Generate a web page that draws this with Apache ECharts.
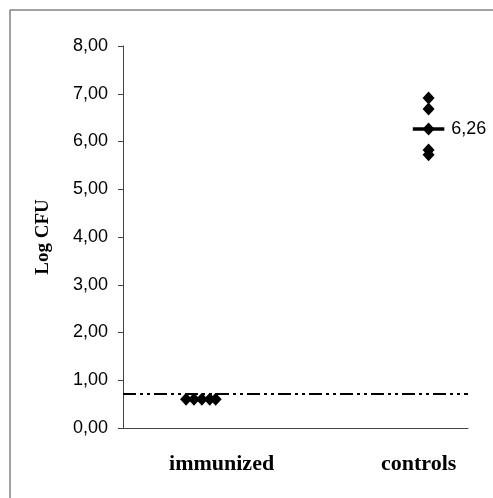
<!DOCTYPE html>
<html>
<head>
<meta charset="utf-8">
<script src="https://cdn.jsdelivr.net/npm/echarts@6/dist/echarts.min.js"></script>
<style>
  html, body { margin: 0; padding: 0; background: #fff; }
  #chart { width: 493px; height: 498px; }
</style>
</head>
<body>
<div id="chart"></div>
<script>
const categories = ['immunized', 'controls']
const yTicks = [0, 1, 2, 3, 4, 5, 6, 7, 8]

// x positions are jitter around category 1 / 2
const immunizedX = [0.82, 0.86, 0.90, 0.94, 0.97]
const immunizedY = [0.60, 0.60, 0.60, 0.60, 0.60]
const controlsX = [2.05, 2.05, 2.05, 2.05, 2.05]
const controlsY = [6.91, 6.68, 6.26, 5.82, 5.72]

const median = 6.26
const medianSpan = [1.97, 2.13]
const detectionLimit = 0.72

const chart = echarts.init(document.getElementById('chart'))

const fmt = v => v.toFixed(2).replace('.', ',')

const option = {
  animation: false,
  backgroundColor: '#fff',
  grid: { left: 123, right: 25, top: 46, bottom: 70 },
  graphic: [
    { type: 'line', shape: { x1: 10, y1: 10, x2: 493, y2: 10 }, style: { stroke: '#444', lineWidth: 1 } },
    { type: 'line', shape: { x1: 10, y1: 10, x2: 10, y2: 498 }, style: { stroke: '#444', lineWidth: 1 } }
  ],
  xAxis: {
    type: 'value',
    min: 0.5,
    max: 2.25,
    splitLine: { show: false },
    axisLine: { show: true, onZero: false, lineStyle: { color: '#444', width: 1 } },
    axisTick: { show: false },
    axisLabel: {
      customValues: [1, 2],
      formatter: v => categories[Math.round(v) - 1] || '',
      fontFamily: 'Liberation Serif',
      fontWeight: 'bold',
      fontSize: 22,
      color: '#000',
      margin: 25
    }
  },
  yAxis: {
    type: 'value',
    min: 0,
    max: 8,
    interval: 1,
    name: 'Log CFU',
    nameLocation: 'middle',
    nameGap: 70,
    nameTextStyle: { fontFamily: 'Liberation Serif', fontWeight: 'bold', fontSize: 19, color: '#000' },
    splitLine: { show: false },
    axisLine: { show: true, lineStyle: { color: '#444', width: 1 } },
    axisTick: { show: true, length: 5, lineStyle: { color: '#444' } },
    axisLabel: {
      customValues: yTicks,
      formatter: v => fmt(v),
      fontFamily: 'Liberation Sans',
      fontSize: 18,
      color: '#000',
      margin: 15
    }
  },
  series: [
    {
      type: 'line',
      data: [],
      markLine: {
        silent: true,
        symbol: 'none',
        label: { show: false },
        lineStyle: { color: '#000', width: 2, type: [13, 4, 3, 4, 3, 4] },
        data: [{ yAxis: detectionLimit }]
      }
    },
    {
      type: 'line',
      data: medianSpan.map(x => [x, median]),
      symbol: 'none',
      lineStyle: { color: '#000', width: 3.5 },
      endLabel: {
        show: true,
        formatter: () => fmt(median),
        fontFamily: 'Liberation Sans',
        fontSize: 18,
        color: '#000',
        distance: 7
      },
      z: 3
    },
    {
      type: 'scatter',
      symbol: 'diamond',
      symbolSize: [12, 13],
      itemStyle: { color: '#000', opacity: 1 },
      data: immunizedX.map((x, i) => [x, immunizedY[i]]),
      z: 4
    },
    {
      type: 'scatter',
      symbol: 'diamond',
      symbolSize: [12, 13],
      itemStyle: { color: '#000', opacity: 1 },
      data: controlsX.map((x, i) => [x, controlsY[i]]),
      z: 4
    }
  ]
}

chart.setOption(option)
</script>
</body>
</html>
